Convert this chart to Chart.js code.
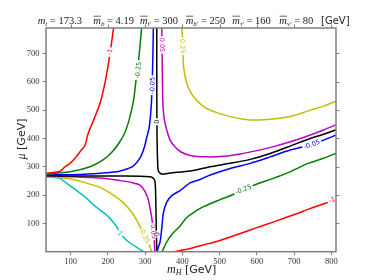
<!DOCTYPE html>
<html><head><meta charset="utf-8">
<script src="https://cdn.jsdelivr.net/npm/chart.js@4.4.1/dist/chart.umd.min.js"></script>
<style>html,body{margin:0;padding:0;background:#fff}</style>
</head><body>
<canvas id="c" width="374" height="280" style="width:374px;height:280px;display:block"></canvas>
<script>
// contour levels and their colours
const levels = [-1, -0.25, -0.05, 0, 0.05, 0.25, 1];
const levelNames = ['-1', '-0.25', '-0.05', '0', '0.05', '0.25', '1'];
const levelColors = ['#ff0000', '#008000', '#0000ff', '#000000', '#bf00bf', '#bfbf00', '#00bfbf'];

// x ticks / y ticks
const xTicks = [100, 200, 300, 400, 500, 600, 700, 800];
const yTicks = [100, 200, 300, 400, 500, 600, 700];

// contour branches: [m_H, mu] pairs (GeV)
const lvlM1_upper = [[33,277],[66.7,282],[75.8,288],[84.7,300],[98,312],[111.5,330],[125,353],[138.4,376],[147,418],[163,470],[178.8,524],[193.5,606],[205.6,700],[215.6,795]];
const lvlM1_lower = [[379,0],[420.7,11],[456.4,24],[492.4,36],[528.2,52],[563.1,68],[598,84],[635.7,101],[670.6,117],[708.3,135],[746,154],[786.2,172],[816,188]];
const lvlM025_upper = [[33,273],[98.1,282],[151.9,300],[186.8,324],[211,352],[229.8,384],[246,422],[259.4,478],[268.8,535],[275.5,606],[281,659],[285,712],[290.8,795]];
const lvlM025_lower = [[345.4,0],[358,35],[375,66],[393.8,91],[411.8,121],[434.1,142],[456.4,159],[501.3,184],[536.2,202],[590,234],[643.8,259],[689.5,282],[734.4,310],[779,330],[816,349]];
const lvlM005_upper = [[33,271],[125,273],[178.8,277],[223.6,282],[250.5,292],[268.3,302.5],[286.3,331],[297.1,366],[303.8,401],[310.5,437],[314.5,483],[317.2,536],[319.1,606],[320.7,694],[322,795]];
const lvlM005_lower = [[331.2,0],[340,35],[344.6,83],[348.9,137],[358,175],[371.5,198],[393.8,216],[420.7,243],[447.6,255],[474.5,271],[528.2,294],[582,312],[635.7,335],[689.5,359],[747.8,379],[779,394],[816,414]];
const lvl0_left = [[33,268],[125,267],[232.5,267],[313.2,265],[322,259],[326.6,246],[328.5,182.5],[329.8,77],[331.5,0]];
const lvl0_right = [[331.2,795],[331.2,606],[331.7,430],[333.3,324],[335.5,285],[344.6,274],[366.9,278],[420.7,285],[474.5,300],[528.2,312],[582,326],[635.7,347],[689.5,373],[743.3,400],[779,415],[816,432]];
const lvlP005_left = [[33,268],[106.2,265],[178.8,260],[232.5,251],[264.8,244],[286.3,235],[299.7,212],[308.6,182.5],[313.2,153],[318.5,112],[322,71],[324.7,34],[326,0]];
const lvlP005_right = [[344.6,795],[345.4,712],[347.3,535],[350.8,472],[358,430],[366.9,394],[380.4,370],[396.5,352],[420.7,340],[465.6,335],[510.2,337],[555,345],[600,357],[644.6,371],[689.5,388],[734.4,408],[779,430],[816,450]];
const lvlP025_left = [[33,265],[89.2,259],[138.4,244],[178.8,227],[214.5,200],[237.9,177],[259.4,147],[275.5,115],[286.3,88],[299.7,53],[310.5,24],[317.8,0]];
const lvlP025_right = [[398.4,795],[401.1,730],[403.2,652],[411.8,594],[423.4,560],[438.7,534],[461,509],[492.5,491],[528.2,477],[568.5,467],[608.9,465],[662.6,471],[702.9,482],[743.3,500],[779,514],[816,533]];
const lvlP1_left = [[33,264],[71.2,259],[89.2,241],[116.1,216],[138.4,193],[165.3,161],[201,124],[223.6,88],[232.5,65],[254.8,35],[281.7,12],[295.1,0]];

const branches = [
  {pts: lvlM1_upper, lvl: 0}, {pts: lvlM1_lower, lvl: 0},
  {pts: lvlM025_upper, lvl: 1}, {pts: lvlM025_lower, lvl: 1},
  {pts: lvlM005_upper, lvl: 2}, {pts: lvlM005_lower, lvl: 2},
  {pts: lvl0_left, lvl: 3}, {pts: lvl0_right, lvl: 3},
  {pts: lvlP005_left, lvl: 4}, {pts: lvlP005_right, lvl: 4},
  {pts: lvlP025_left, lvl: 5}, {pts: lvlP025_right, lvl: 5},
  {pts: lvlP1_left, lvl: 6}
];

// inline contour-label spots per branch: [m_H, mu, rotation deg]
const labelSpots = [
  [205.6, 705, -80], [801.6, 182.5, -20],
  [281.7, 641, -85], [564, 220, -22],
  [319.4, 588, -88], [747.8, 379, -20],
  [330.6, 62, 88], [331.2, 459, -90],
  [322, 71, 84], [344.9, 730, 89],
  [299.7, 53, 64], [400.5, 726, 87],
  [232.5, 65, 52]
];

const LABEL_FONT = '6.5px "DejaVu Sans"';

function labelBox(chart, i) {
  const s = labelSpots[i];
  const px = chart.scales.x.getPixelForValue(s[0]);
  const py = chart.scales.y.getPixelForValue(s[1]);
  const ctx = chart.ctx;
  ctx.save(); ctx.font = LABEL_FONT;
  const w = ctx.measureText(levelNames[branches[i].lvl]).width;
  ctx.restore();
  return {px, py, ang: s[2] * Math.PI / 180, hw: w / 2 + 1.5, hh: 3.2};
}

const clabelPlugin = {
  id: 'clabels',
  beforeDatasetDraw(chart, args) {
    const ctx = chart.ctx;
    const b = labelBox(chart, args.index);
    ctx.save();
    ctx.beginPath();
    ctx.rect(0, 0, chart.width, chart.height);
    const c = Math.cos(b.ang), s = Math.sin(b.ang);
    const corners = [[-b.hw, -b.hh], [b.hw, -b.hh], [b.hw, b.hh], [-b.hw, b.hh]].map(p => [b.px + p[0] * c - p[1] * s, b.py + p[0] * s + p[1] * c]);
    ctx.moveTo(corners[0][0], corners[0][1]);
    for (let k = 1; k < 4; k++) ctx.lineTo(corners[k][0], corners[k][1]);
    ctx.closePath();
    ctx.clip('evenodd');
  },
  afterDatasetDraw(chart) { chart.ctx.restore(); },
  afterDatasetsDraw(chart) {
    const ctx = chart.ctx;
    branches.forEach((br, i) => {
      const b = labelBox(chart, i);
      ctx.save();
      ctx.translate(b.px, b.py);
      ctx.rotate(b.ang);
      ctx.font = LABEL_FONT;
      ctx.fillStyle = levelColors[br.lvl];
      ctx.textAlign = 'center';
      ctx.textBaseline = 'middle';
      ctx.fillText(levelNames[br.lvl], 0, 0.3);
      ctx.restore();
    });
  }
};

const framePlugin = {
  id: 'frame',
  afterDraw(chart) {
    const ctx = chart.ctx, a = chart.chartArea, x = chart.scales.x, y = chart.scales.y;
    ctx.save();
    ctx.strokeStyle = '#808080';
    ctx.lineWidth = 1.5;
    ctx.strokeRect(a.left, a.top, a.right - a.left, a.bottom - a.top);
    ctx.lineWidth = 1;
    ctx.beginPath();
    xTicks.forEach(v => { const p = Math.round(x.getPixelForValue(v)) + 0.5; ctx.moveTo(p, a.top); ctx.lineTo(p, a.top - 3.5); });
    yTicks.forEach(v => { const p = Math.round(y.getPixelForValue(v)) + 0.5; ctx.moveTo(a.right, p); ctx.lineTo(a.right + 3.5, p); });
    ctx.stroke();

    // title with math
    const serif = '"Liberation Serif", "DejaVu Serif", serif';
    const base = 23.5;
    const pieces = [
      {x: 37.7, sub: 't', val: '173.3', bar: false},
      {x: 93.3, sub: 'b', val: '4.19', bar: true},
      {x: 140, sub: 't\u2032', val: '300', bar: true},
      {x: 185.7, sub: 'b\u2032', val: '250', bar: true},
      {x: 232.3, sub: '\u03c4\u2032', val: '160', bar: true},
      {x: 279.3, sub: '\u03bd\u2032', val: '80', bar: true}
    ];
    ctx.fillStyle = '#222';
    ctx.strokeStyle = '#222';
    ctx.textBaseline = 'alphabetic';
    ctx.textAlign = 'left';
    pieces.forEach(p => {
      let cx = p.x;
      ctx.font = 'italic 10.5px ' + serif;
      const mw = ctx.measureText('m').width;
      ctx.fillText('m', cx, base);
      if (p.bar) {
        ctx.lineWidth = 0.7;
        ctx.beginPath(); ctx.moveTo(cx + 0.3, base - 7.3); ctx.lineTo(cx + mw, base - 7.3); ctx.stroke();
      }
      cx += mw;
      ctx.font = 'italic 7px ' + serif;
      ctx.fillText(p.sub, cx, base + 2);
      cx += ctx.measureText(p.sub).width;
      ctx.font = '10.5px ' + serif;
      ctx.fillText(' = ' + p.val, cx, base);
    });
    ctx.font = '10px "DejaVu Sans"';
    ctx.fillText('[GeV]', 321, base);

    // x axis title
    ctx.font = 'italic 12px ' + serif;
    const w1 = ctx.measureText('m').width;
    ctx.font = 'italic 8px ' + serif;
    const w2 = ctx.measureText('H').width;
    ctx.font = '11px "DejaVu Sans"';
    const w3 = ctx.measureText(' [GeV]').width;
    let sx = 191.7 - (w1 + w2 + w3) / 2;
    const xb = 272.5;
    ctx.font = 'italic 12px ' + serif; ctx.fillText('m', sx, xb); sx += w1;
    ctx.font = 'italic 8px ' + serif; ctx.fillText('H', sx, xb + 2.5); sx += w2;
    ctx.font = '11px "DejaVu Sans"'; ctx.fillText(' [GeV]', sx, xb);

    // y axis title
    ctx.save();
    ctx.translate(25, 139);
    ctx.rotate(-Math.PI / 2);
    ctx.font = 'italic 12px ' + serif;
    const u1 = ctx.measureText('\u03bc').width;
    ctx.font = '11px "DejaVu Sans"';
    const u2 = ctx.measureText(' [GeV]').width;
    let sy = -(u1 + u2) / 2;
    ctx.font = 'italic 12px ' + serif; ctx.fillText('\u03bc', sy, 0); sy += u1;
    ctx.font = '11px "DejaVu Sans"'; ctx.fillText(' [GeV]', sy, 0);
    ctx.restore();
    ctx.restore();
  }
};

const datasets = branches.map(br => ({
  data: br.pts.map(p => ({x: p[0], y: p[1]})),
  showLine: true,
  borderColor: levelColors[br.lvl],
  borderWidth: 1.5,
  pointRadius: 0,
  tension: 0.25,
  fill: false
}));

new Chart(document.getElementById('c'), {
  type: 'scatter',
  data: {datasets},
  options: {
    responsive: false,
    animation: false,
    events: [],
    layout: {padding: {top: 28, right: 38, left: 0, bottom: 0}},
    plugins: {legend: {display: false}, tooltip: {enabled: false}, title: {display: false}},
    scales: {
      x: {
        type: 'linear', min: 33.6, max: 812.6,
        afterBuildTicks: s => { s.ticks = xTicks.map(v => ({value: v})); },
        ticks: {font: {family: '"Liberation Serif", serif', size: 8.5}, color: '#333', padding: 1, maxRotation: 0},
        grid: {display: true, drawOnChartArea: false, drawTicks: true, tickLength: 3.5, color: '#808080'},
        border: {display: false},
        afterFit: s => { s.height = 280 - 251.7; }
      },
      y: {
        type: 'linear', min: 0, max: 790,
        afterBuildTicks: s => { s.ticks = yTicks.map(v => ({value: v})); },
        ticks: {font: {family: '"Liberation Serif", serif', size: 8.5}, color: '#333', padding: 3},
        grid: {display: true, drawOnChartArea: false, drawTicks: true, tickLength: 3.5, color: '#808080'},
        border: {display: false},
        afterFit: s => { s.width = 46; }
      }
    }
  },
  plugins: [clabelPlugin, framePlugin]
});
</script>
</body></html>
